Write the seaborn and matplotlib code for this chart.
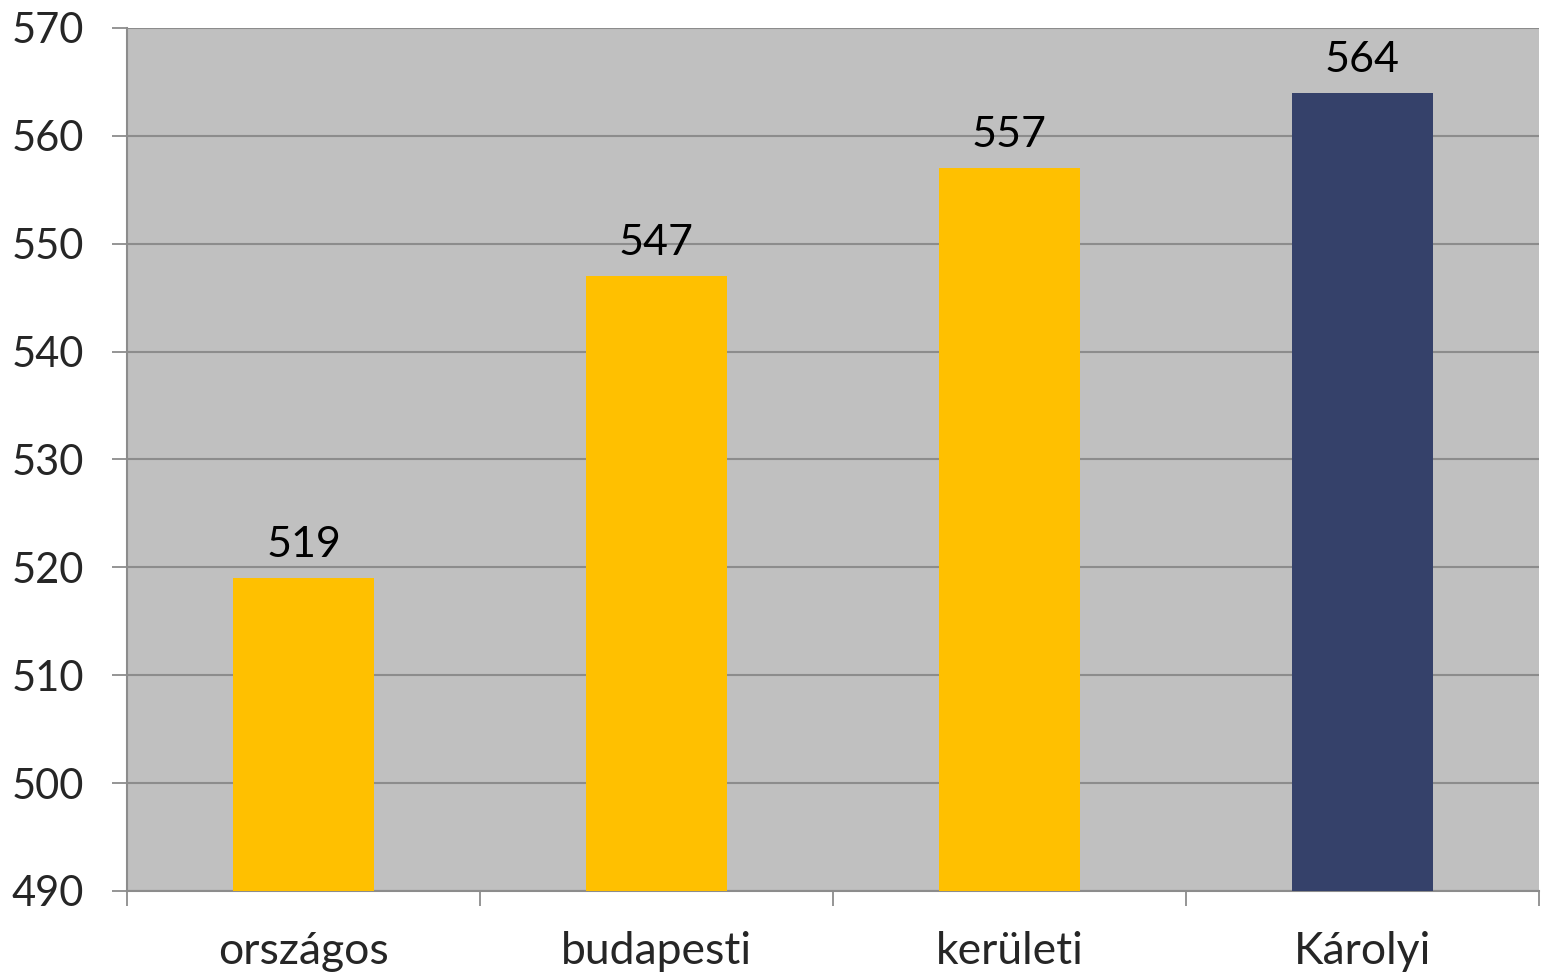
import seaborn as sns
import matplotlib.pyplot as plt

categories = ["országos", "budapesti", "kerületi", "Károlyi"]
values = [519, 547, 557, 564]
colors = ["#FFC000", "#FFC000", "#FFC000", "#35416A"]

sns.set_style("white")
plt.rcParams["font.family"] = ["Lato", "DejaVu Sans"]

fig = plt.figure(figsize=(15.44, 9.77), dpi=100)
ax = fig.add_axes([127 / 1544, 86 / 977, 1412 / 1544, 863 / 977])
ax.set_facecolor("#C0C0C0")

sns.barplot(x=categories, y=values, hue=categories, palette=colors,
            legend=False, width=0.4, saturation=1, linewidth=0, ax=ax, zorder=3)

for c in ax.containers:
    ax.bar_label(c, padding=10, fontsize=31, color="black")

ax.set_ylim(490, 570)
ax.set_yticks(range(490, 571, 10))
ax.set_xlim(-0.5, 3.5)
ax.yaxis.grid(True, color="#8C8C8C", linewidth=1.5, zorder=0)
ax.set_axisbelow(True)

# ticks at category boundaries, labels at centers
ax.set_xticks([-0.5, 0.5, 1.5, 2.5, 3.5])
ax.set_xticklabels([])
ax.set_xticks(range(4), minor=True)
ax.set_xticklabels(categories, minor=True)
ax.tick_params(axis="x", which="major", bottom=True, length=11, width=1.3,
               color="#8C8C8C", direction="out")
ax.tick_params(axis="x", which="minor", bottom=True, length=0, labelsize=32, pad=29)
ax.tick_params(axis="y", left=True, length=11, width=1.3, color="#8C8C8C",
               direction="out", labelsize=30, pad=20)

for s in ["top", "right"]:
    ax.spines[s].set_visible(False)
for s in ["left", "bottom"]:
    ax.spines[s].set_color("#8C8C8C")
    ax.spines[s].set_linewidth(1.5)

ax.set_xlabel("")
ax.set_ylabel("")
fig.savefig("out.png", dpi=100)
